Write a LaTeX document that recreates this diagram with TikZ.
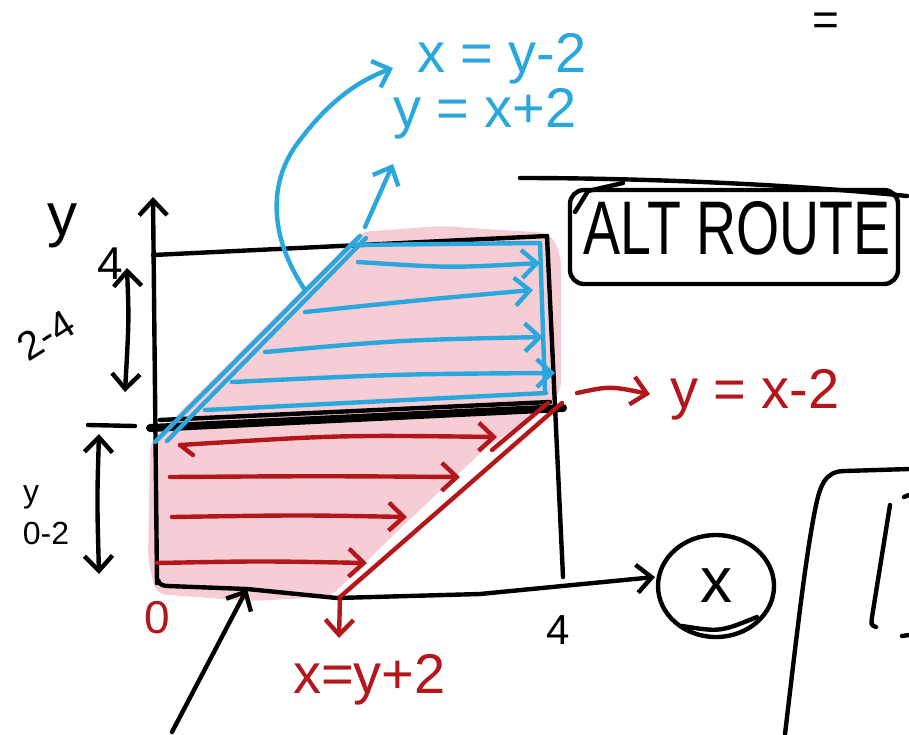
\documentclass[tikz,border=0pt]{standalone}
\usepackage{fontspec}
\setmainfont{Liberation Sans}
\usetikzlibrary{arrows.meta,shapes.geometric}
\definecolor{skyb}{HTML}{2AA8DE}
\definecolor{redd}{HTML}{B3161B}
\definecolor{pinkk}{HTML}{F6CDD5}
\newcommand{\fs}[1]{\fontsize{#1}{#1}\selectfont}
\begin{document}
\begin{tikzpicture}[x=1pt,y=-1pt,
  ink/.style={line width=4.4pt,line cap=round,line join=round},
  blk/.style={ink,black},
  blu/.style={ink,skyb},
  rdd/.style={ink,redd},
  tipb/.style={-{Straight Barb[length=15pt,width=28pt,line width=4.4pt]}},
  tipbb/.style={{Straight Barb[length=15pt,width=28pt,line width=4.4pt]}-{Straight Barb[length=15pt,width=28pt,line width=4.4pt]}},
  lbl/.style={inner sep=0pt,outer sep=0pt}]
\useasboundingbox (0,0) rectangle (909,734);
\fill[white] (0,0) rectangle (909,734);

% pink region
\fill[pinkk,rounded corners=10pt] (150,442) -- (360,232) -- (440,226) -- (550,233) -- (561,255) -- (561,392) -- (545,408) -- (487,447) -- (407,522) -- (330,597) -- (250,601) -- (156,594) -- (148,560) -- cycle;

% coordinates
\coordinate (yb) at (157,583);
\coordinate (yt) at (153,197);
\coordinate (xe) at (655,577);
\coordinate (tl) at (153,255);
\coordinate (tr) at (547,236);
\coordinate (br) at (563,577);
\coordinate (ml) at (150,428);
\coordinate (mr) at (563,408);

% black frame
\draw[blk,tipb] (yb) -- (yt);
\draw[blk] (tl) -- (tr);
\draw[blk] (tr) -- (br);
\draw[blk,tipb] (yb) -- (158,580) to[out=-80,in=180] (168,586) -- (247,589) -- (337,598) -- (480,594) -- (xe);
\draw[ink,line width=8pt] (ml) -- (mr);
\draw[blk] (160,420) -- (550,402);
\draw[blk] (88,425) -- (135,426);

% double arrows left
\draw[blk,tipbb] (127,268) .. controls (129,320) .. (125,392);
\draw[blk,tipbb] (99,434) .. controls (97,500) .. (99,574);

% left labels
\node[lbl,font=\fs{60}] (ylab) at (62,226) {y};
\node[lbl,font=\fs{46}] (four1) at (110,264) {4};
\node[lbl,font=\fs{40},rotate=32] (tf) at (46,335) {2-4};
\node[lbl,font=\fs{32}] (ysm) at (31,497) {y};
\node[lbl,font=\fs{32}] (oz) at (46,533) {0-2};
\node[lbl,font=\fs{46},text=redd] (zero) at (157,618) {0};
\node[lbl,font=\fs{42}] (four2) at (558,630) {4};

% blue part
\draw[blu] (155,442) -- (360,236);
\draw[blu] (167,441) -- (366,238);
\draw[blu] (350,245) -- (540,243) -- (545,392);
\draw[blu] (205,410) -- (546,393);
\draw[blu,tipb] (358,262) .. controls (450,268) .. (540,263);
\draw[blu,tipb] (305,312) .. controls (420,300) .. (533,290);
\draw[blu,tipb] (265,352) .. controls (400,340) .. (543,337);
\draw[blu,tipb] (232,382) .. controls (400,374) .. (555,373);

\node[lbl,anchor=base west,font=\fs{56},text=skyb] (xy2) at (417,72) {x = y-2};
\node[lbl,anchor=base west,font=\fs{56},text=skyb] (yx2) at (393,127) {y = x+2};
\coordinate (c1) at (305,290);
\coordinate (c1e) at (393,68);
\draw[blu,tipb] (c1) .. controls (268,235) and (268,180) .. (300,140) .. controls (330,100) and (360,80) .. (c1e);
\coordinate (c2) at (365,227);
\coordinate (c2e) at (393,164);
\draw[blu,tipb] (c2) -- (c2e);

% red part
\coordinate (rt) at (562,403);
\coordinate (rb) at (340,597);
\draw[rdd] (rt) -- (rb);
\draw[rdd] (548,403) -- (492,450);
\draw[rdd,tipb] (rb) -- (339,638);
\draw[rdd,tipb] (180,445) .. controls (340,435) .. (497,437);
\draw[rdd] (180,445) -- (193,455);
\draw[rdd,tipb] (170,477) .. controls (320,476) .. (460,477);
\draw[rdd,tipb] (172,517) .. controls (300,515) .. (407,517);
\draw[rdd,tipb] (157,563) .. controls (260,561) .. (367,563);
\node[lbl,anchor=base west,font=\fs{56},text=redd] (yxm2) at (670,408) {y = x-2};
\node[lbl,anchor=base west,font=\fs{56},text=redd] (xyp2) at (293,693) {x=y+2};
\draw[rdd,tipb] (577,393) .. controls (610,386) .. ([xshift=-20pt]yxm2.west);

% black arrow from below
\draw[blk,tipb] (172,732) -- (247,589);

% ALT ROUTE
\draw[blk] (520,178) .. controls (650,178) and (800,185) .. (907,196);
\node[blk,draw,rounded corners=14pt,minimum width=328pt,minimum height=94pt] (altbox) at (734,237) {};
\node[lbl,font=\fs{76}] (alt) at (737,228) {\scalebox{0.73}[1]{ALT ROUTE}};
\draw[blk] (575,212) -- (588,191) -- (623,183);

% circled x
\node[blk,draw,ellipse,minimum width=116pt,minimum height=102pt,font=\fs{64}] (xc) at (716,586) {x};
\draw[blk] (682,626) .. controls (720,632) .. (757,617);

% right bracket shape
\draw[blk] (785,734) .. controls (795,650) and (805,560) .. (815,510) .. controls (820,485) and (825,471) .. (845,471) -- (909,469);
\draw[blk] (890,505) -- (872,617) .. controls (871,625) .. (876,627);
\draw[blk] (904,497) -- (909,495);
\draw[blk] (902,636) -- (909,635);

% equals
\node[lbl,font=\fs{46}] (eq) at (826,24) {=};
\end{tikzpicture}
\end{document}
